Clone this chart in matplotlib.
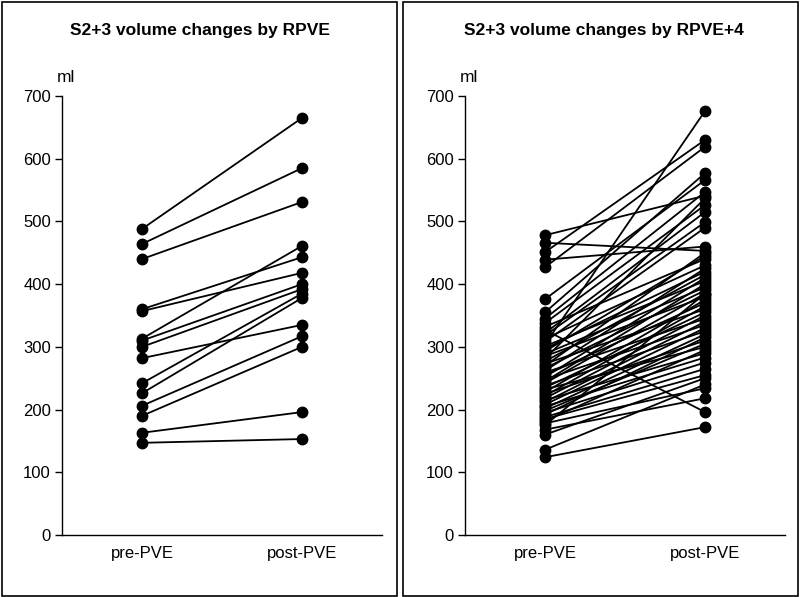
import matplotlib
matplotlib.use("Agg")
import matplotlib.pyplot as plt
from matplotlib.patches import Rectangle

plt.rcParams['font.family'] = ['Liberation Sans', 'DejaVu Sans']

categories = ["pre-PVE", "post-PVE"]
yticks = [0, 100, 200, 300, 400, 500, 600, 700]

# Left panel: RPVE
rpve_pre = [488, 464, 440, 360, 357, 313, 310, 300, 282, 242, 226, 206, 190, 163, 147]
rpve_post = [665, 585, 531, 443, 418, 461, 400, 392, 335, 385, 378, 317, 300, 196, 153]

# Right panel: RPVE+4
rpve4_pre = [478, 466, 451, 439, 427, 376, 355, 345, 338, 332, 327, 322, 318, 313,
             308, 304, 301, 297, 293, 289, 285, 281, 277, 273, 270, 266, 262, 259,
             255, 252, 248, 245, 242, 238, 235, 232, 228, 225, 222, 218, 215, 212,
             208, 205, 202, 198, 195, 192, 188, 185, 182, 178, 175, 168, 160, 136, 124]
rpve4_post = [541, 453, 630, 460, 619, 566, 577, 547, 526, 440, 196, 515, 499, 430,
              490, 676, 405, 420, 445, 395, 380, 537, 415, 360, 450, 390, 425, 345,
              370, 410, 335, 400, 385, 325, 355, 300, 375, 310, 365, 350, 290, 340,
              330, 283, 320, 305, 275, 315, 265, 255, 295, 234, 385, 218, 250, 240, 172]

fig = plt.figure(figsize=(8.0, 5.97), dpi=100)

# panel frames
fig.patches.append(Rectangle((0.002, 0.002), 0.494, 0.995, transform=fig.transFigure,
                             fill=False, edgecolor='black', linewidth=1.2))
fig.patches.append(Rectangle((0.504, 0.002), 0.494, 0.995, transform=fig.transFigure,
                             fill=False, edgecolor='black', linewidth=1.2))

def panel(left, pre, post, title, title_x):
    ax = fig.add_axes([left, 1 - 535/597, 320/800, (535-96)/597])
    for a, b in zip(pre, post):
        ax.plot([0.5, 1.5], [a, b], color='black', linewidth=1.3,
                marker='o', markersize=7.5, markerfacecolor='black',
                markeredgecolor='black', solid_capstyle='round')
    ax.set_xlim(0, 2)
    ax.set_ylim(0, 700)
    ax.set_yticks(yticks)
    ax.set_xticks([0.5, 1.5])
    ax.set_xticklabels(categories, fontsize=12)
    ax.tick_params(axis='x', length=0, pad=8)
    ax.tick_params(axis='y', length=5, width=1, direction='out', labelsize=12, pad=3)
    for s in ['top', 'right']:
        ax.spines[s].set_visible(False)
    ax.spines['left'].set_linewidth(1)
    ax.spines['bottom'].set_linewidth(1)
    for ln in ax.lines:
        ln.set_clip_on(False)
    fig.text(title_x, 1 - 30/597, title, ha='center', va='center',
             fontsize=12.5, fontweight='bold')
    fig.text(left - 5/800, 1 - 77/597, "ml", ha='left', va='center', fontsize=12.5)
    return ax

panel(62/800, rpve_pre, rpve_post, "S2+3 volume changes by RPVE", 200/800)
panel(465/800, rpve4_pre, rpve4_post, "S2+3 volume changes by RPVE+4", 604/800)

fig.savefig("out.png", dpi=100)
